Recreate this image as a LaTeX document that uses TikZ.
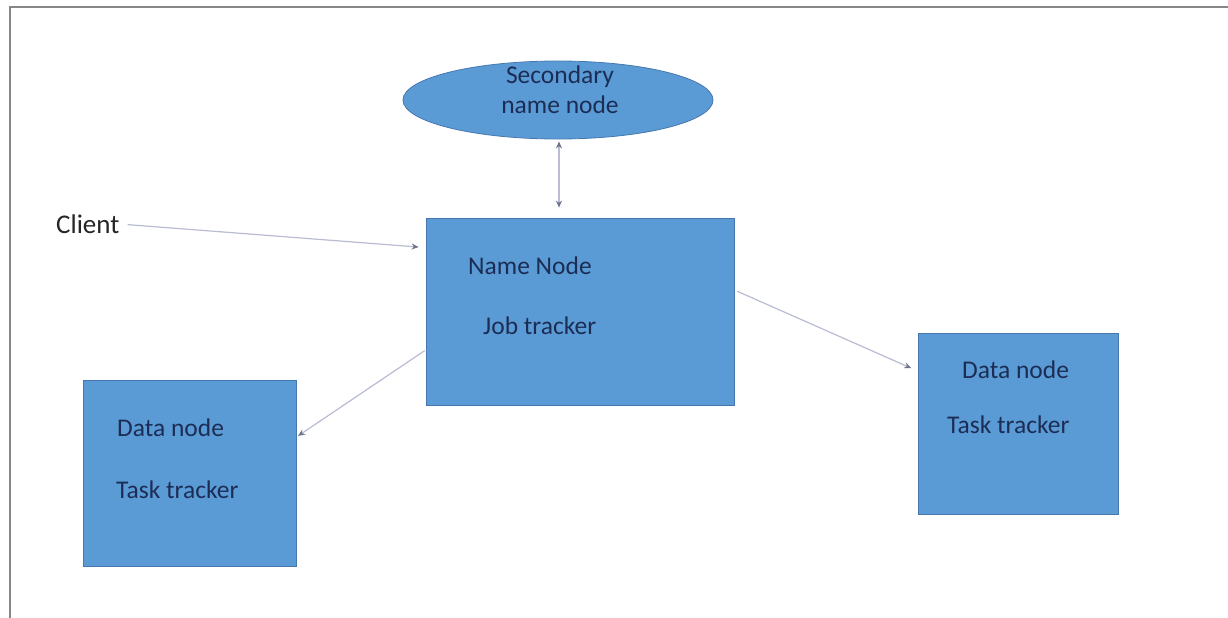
\documentclass[tikz,border=0pt]{standalone}
\usepackage{fontspec}
\setmainfont{Carlito}
\usetikzlibrary{arrows.meta,shapes.geometric}
\definecolor{boxfill}{RGB}{91,155,213}
\definecolor{boxline}{RGB}{70,120,175}
\definecolor{txtc}{RGB}{28,45,85}
\definecolor{arrc}{RGB}{185,188,210}
\definecolor{tipc}{RGB}{110,115,140}
\definecolor{framec}{RGB}{135,135,135}
\tikzset{
  box/.style={draw=boxline, line width=0.8pt, fill=boxfill, rectangle, inner sep=0pt},
  oval/.style={draw=boxline, line width=0.8pt, fill=boxfill, ellipse, inner sep=0pt},
  lbl/.style={text=txtc, font=\fontsize{25.5}{30}\selectfont, inner sep=0pt},
  conn/.style={draw=arrc, line width=1.2pt, -{Stealth[length=7pt,width=6pt,color=tipc]}},
  bconn/.style={draw=arrc, line width=1.2pt, {Stealth[length=7pt,width=6pt,color=tipc]}-{Stealth[length=7pt,width=6pt,color=tipc]}},
  frame/.style={draw=framec, line width=2.5pt}
}
\begin{document}
\begin{tikzpicture}[x=1pt,y=-1pt]
\useasboundingbox (0,0) rectangle (1228,618);
\fill[white] (0,0) rectangle (1228,618);
% frame
\coordinate (ftr) at (1228,7);
\coordinate (ftl) at (10,7);
\coordinate (fbl) at (10,618);
\draw[frame] (ftr) -- (ftl) -- (fbl);
% shapes
\node[oval, minimum width=310pt, minimum height=78pt] (sec) at (558,100) {};
\node[box, minimum width=308pt, minimum height=187pt] (nn) at (580,311.5) {};
\node[box, minimum width=213pt, minimum height=186pt] (ld) at (189.5,473) {};
\node[box, minimum width=200pt, minimum height=181pt] (rd) at (1018,423.5) {};
% texts
\node[lbl, align=center] (sectxt) at (560,90) {Secondary\\name node};
\node[lbl, anchor=west] (nntxt) at (468,266) {Name Node};
\node[lbl, anchor=west] (jttxt) at (483,326) {Job tracker};
\node[lbl, anchor=west] (ldtxt) at (117,428) {Data node};
\node[lbl, anchor=west] (lttxt) at (116,490) {Task tracker};
\node[lbl, anchor=west] (rdtxt) at (962,370) {Data node};
\node[lbl, anchor=west] (rttxt) at (947,425) {Task tracker};
\node[lbl, anchor=west, text=black!85, font=\fontsize{27}{30}\selectfont] (client) at (56,224) {Client};
% connectors
\draw[bconn, shorten <=2pt, shorten >=10pt] ([xshift=1pt]sec.south) -- ([xshift=1pt]sec.south |- nn.north);
\draw[conn, shorten <=8pt, shorten >=7pt] (client.east) -- ([yshift=-30pt]nn.north west);
\draw[conn, shorten <=1pt, shorten >=2pt] ([yshift=-38.5pt]nn.west) -- ([yshift=36pt]ld.east);
\draw[conn, shorten <=3pt, shorten >=7pt] ([yshift=21.5pt]nn.east) -- ([yshift=52.5pt]rd.west);
\end{tikzpicture}
\end{document}
